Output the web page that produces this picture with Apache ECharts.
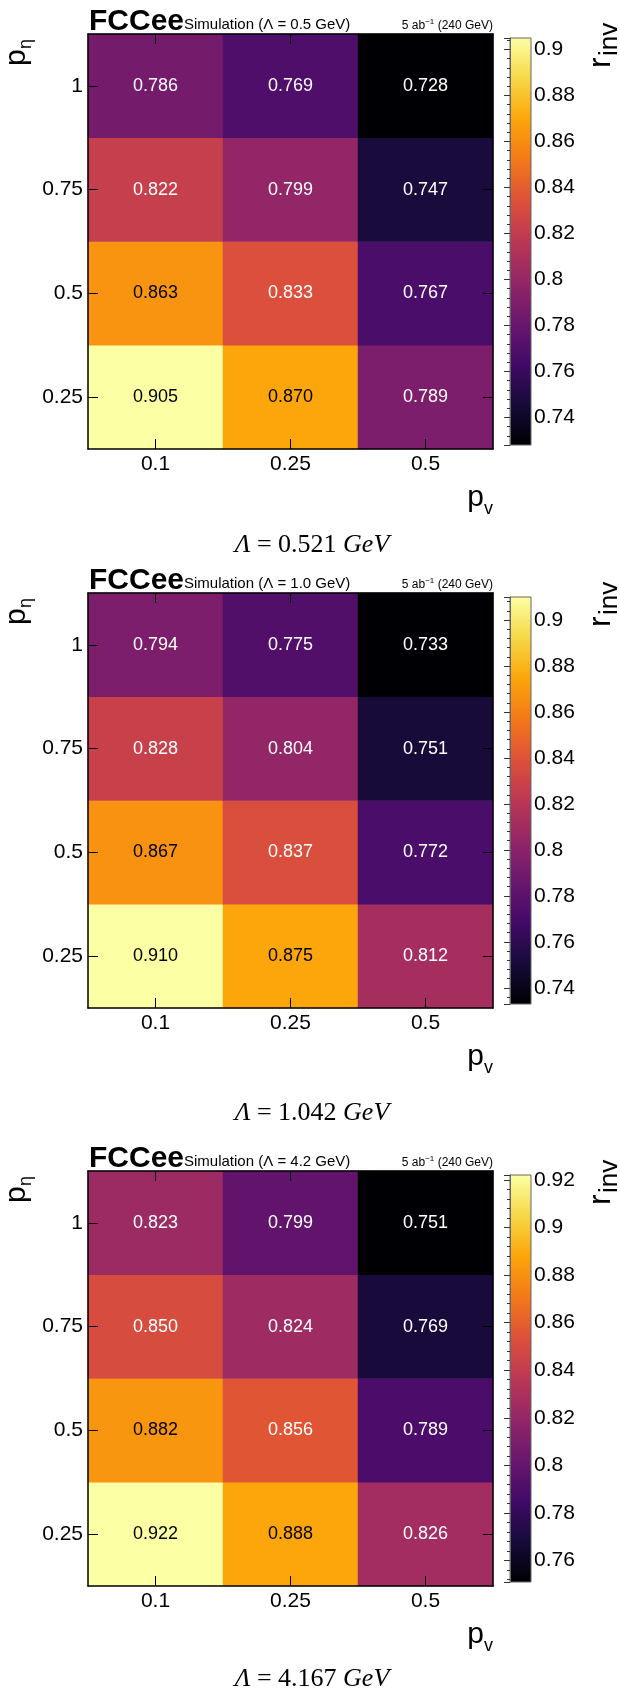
<!DOCTYPE html>
<html><head><meta charset="utf-8">
<script src="https://cdn.jsdelivr.net/npm/echarts@6/dist/echarts.min.js"></script>
<style>html,body{margin:0;padding:0;background:#fff}#c{width:620px;height:1690px}</style>
</head><body><div id="c"></div>
<script>
// ---- data ----
const pvCats = ['0.1', '0.25', '0.5'];            // x categories (p_v)
const petaCats = ['0.25', '0.5', '0.75', '1'];     // y categories (p_eta), bottom -> top
// rows: p_eta = 0.25, 0.5, 0.75, 1 ; columns: p_v = 0.1, 0.25, 0.5
const rInvLambda05 = [[0.905, 0.870, 0.789], [0.863, 0.833, 0.767], [0.822, 0.799, 0.747], [0.786, 0.769, 0.728]];
const rInvLambda10 = [[0.910, 0.875, 0.812], [0.867, 0.837, 0.772], [0.828, 0.804, 0.751], [0.794, 0.775, 0.733]];
const rInvLambda42 = [[0.922, 0.888, 0.826], [0.882, 0.856, 0.789], [0.850, 0.824, 0.769], [0.823, 0.799, 0.751]];
const simLambdaLabels = ['0.5', '1.0', '4.2'];
const captionLambdas = ['0.521', '1.042', '4.167'];

// ---- layout / style ----
const panelTop = [34, 593, 1171];
const captionY = [545, 1113, 1679];
const FONT = '"Liberation Sans", Arial, Helvetica, sans-serif';
const SERIF = '"Liberation Serif", "DejaVu Serif", serif';
const inferno = ['#000004', '#160b39', '#420a68', '#6a176e', '#932667', '#bc3754', '#dd513a', '#f37819', '#fca50a', '#f6d746', '#fcffa4'];
const PL = 88, PW = 405, PH = 415;
const CB_L = 510, CB_W = 21, CB_H = 407;

const panels = [rInvLambda05, rInvLambda10, rInvLambda42];
const option = { animation: false, grid: [], xAxis: [], yAxis: [], series: [], visualMap: [], graphic: [] };

const subRich = (mainSize, subSize) => ({
  m: { fontSize: mainSize, fontFamily: FONT, color: '#000', lineHeight: 40 },
  s: { fontSize: subSize, fontFamily: FONT, color: '#000', lineHeight: 40, verticalAlign: 'bottom' }
});
// rotated title made of plain text pieces: main letter + subscript (local coords, rotated 90deg CCW)
function rotatedTitle(cx, cy, main, sub, mainSize, mainW, subSize, subDrop) {
  return { type: 'group', x: cx, y: cy, rotation: Math.PI / 2, z: 10, children: [
    { type: 'text', x: 0, y: 0, z: 10, style: { text: main, fontFamily: FONT, fontSize: mainSize, fill: '#000', align: 'left', verticalAlign: 'middle' } },
    { type: 'text', x: mainW, y: subDrop, z: 10, style: { text: sub, fontFamily: FONT, fontSize: subSize, fill: '#000', align: 'left', verticalAlign: 'middle' } }
  ] };
}

panels.forEach((mat, i) => {
  const T = panelTop[i];
  const flat = mat.flat();
  const mn = Math.min(...flat), mx = Math.max(...flat);
  const g = 2 * i;
  option.grid.push({ left: PL, top: T, width: PW, height: PH, show: false });
  option.grid.push({ left: CB_L, top: T + 4, width: CB_W, height: CB_H, show: true, borderColor: '#666', borderWidth: 1, backgroundColor: 'transparent', z: 6 });

  const frame = { axisLine: { show: true, lineStyle: { color: '#000', width: 1.5 } },
    axisTick: { show: true, inside: true, length: 10, alignWithLabel: true, interval: 0, lineStyle: { color: '#000', width: 1 } },
    splitLine: { show: false }, z: 5 };
  const xBase = option.xAxis.length;
  option.xAxis.push(
    Object.assign({ type: 'category', data: pvCats, gridIndex: g, position: 'bottom',
      axisLabel: { fontSize: 21, color: '#000', fontFamily: FONT, margin: 5, interval: 0 } }, frame),
    Object.assign({ type: 'category', data: pvCats, gridIndex: g, position: 'top', axisLabel: { show: false } }, frame),
    { type: 'value', gridIndex: g + 1, show: false }
  );
  const yBase = option.yAxis.length;
  option.yAxis.push(
    Object.assign({ type: 'category', data: petaCats, gridIndex: g, position: 'left',
      axisLabel: { fontSize: 21, color: '#000', fontFamily: FONT, margin: 5, interval: 0 } }, frame),
    Object.assign({ type: 'category', data: petaCats, gridIndex: g, position: 'right', axisLabel: { show: false } }, frame),
    { type: 'value', gridIndex: g + 1, position: 'right', min: mn, max: mx, splitNumber: 9,
      axisLine: { show: true, lineStyle: { color: '#666', width: 1 } },
      axisTick: { show: true, inside: true, length: 6, lineStyle: { color: '#333' } },
      minorTick: { show: true, splitNumber: 5, length: 3, lineStyle: { color: '#333' } },
      axisLabel: { fontSize: 21, color: '#000', fontFamily: FONT, margin: 3, showMinLabel: false, showMaxLabel: false },
      splitLine: { show: false }, z: 7 }
  );
  option.visualMap.push({ type: 'continuous', show: false, seriesIndex: i, min: mn, max: mx, inRange: { color: inferno } });

  const data = [];
  mat.forEach((row, r) => row.forEach((v, c) => {
    const t = (v - mn) / (mx - mn);
    data.push({ value: [c, r, v], label: { color: t > 0.7 ? '#000' : '#fff' } });
  }));
  option.series.push({ type: 'heatmap', xAxisIndex: xBase, yAxisIndex: yBase, data,
    label: { show: true, fontSize: 18, fontFamily: FONT, formatter: p => p.value[2].toFixed(3) },
    itemStyle: { borderWidth: 0 }, emphasis: { disabled: true } });

  // colour bar gradient (legend of the visualMap)
  option.graphic.push({ type: 'rect', shape: { x: CB_L, y: T + 4, width: CB_W, height: CB_H }, z: 3,
    style: { fill: { type: 'linear', x: 0, y: 1, x2: 0, y2: 0,
      colorStops: inferno.map((c, k) => ({ offset: k / (inferno.length - 1), color: c })) } } });

  // texts
  option.graphic.push(
    { type: 'text', x: 89, y: T - 12, z: 10, style: { text: 'FCCee', fontFamily: FONT, fontWeight: 'bold', fontSize: 30, fill: '#000', align: 'left', verticalAlign: 'middle' } },
    { type: 'text', x: 184, y: T - 9, z: 10, style: { text: 'Simulation (Λ = ' + simLambdaLabels[i] + ' GeV)', fontFamily: FONT, fontSize: 15, fill: '#000', align: 'left', verticalAlign: 'middle' } },
    { type: 'text', x: 493, y: T - 8, z: 10, style: { text: '5 ab{s|−1} (240 GeV)', fontFamily: FONT, fontSize: 12, lineHeight: 16, fill: '#000', align: 'right', verticalAlign: 'middle',
      rich: { s: { fontSize: 8, verticalAlign: 'top', lineHeight: 16, fontFamily: FONT } } } },
    rotatedTitle(17, T + 32, 'p', 'η', 30, 17, 18, 9),
    rotatedTitle(601, T + 34, 'r', 'inv', 32, 12, 26, 9),
    { type: 'text', x: 493, y: T + 464, z: 10, style: { text: '{m|p}{s|v}', align: 'right', verticalAlign: 'middle', rich: subRich(30, 18) } },
    { type: 'text', x: 312, y: captionY[i], z: 10, style: { text: '{i|Λ} = ' + captionLambdas[i] + ' {i|GeV}', fontFamily: SERIF, fontSize: 26, fill: '#000', align: 'center', verticalAlign: 'middle',
      rich: { i: { fontFamily: SERIF, fontSize: 26, fontStyle: 'italic' } } } }
  );
});

const chart = echarts.init(document.getElementById('c'), null, { renderer: 'canvas' });
chart.setOption(option);
</script></body></html>
